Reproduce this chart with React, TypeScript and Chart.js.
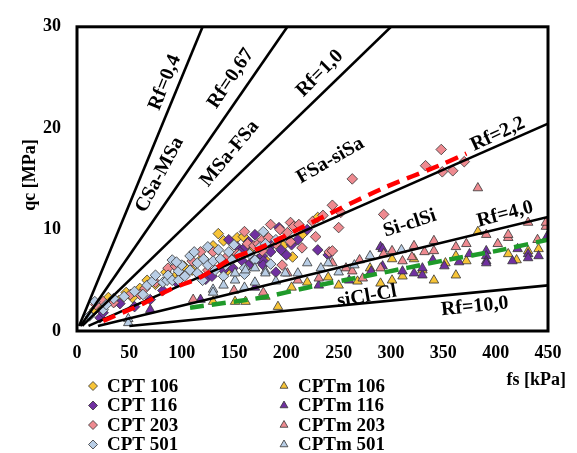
import React, { useEffect, useRef } from "react";
import { Chart, registerables } from "chart.js";
Chart.register(...registerables);

const SERIF = '"Liberation Serif", "Times New Roman", Times, serif';

const xTickValues = [0, 50, 100, 150, 200, 250, 300, 350, 400, 450];
const yTickValues = [0, 10, 20, 30];

const seriesNames = ["CPT 106", "CPT 116", "CPT 203", "CPT 501", "CPTm 106", "CPTm 116", "CPTm 203", "CPTm 501"];
const seriesColors = ["#F7C437", "#7030A0", "#EE8A90", "#B9CEE6", "#F7C437", "#7030A0", "#EE8A90", "#B9CEE6"];
const seriesShapes = ["rectRot", "rectRot", "rectRot", "rectRot", "triangle", "triangle", "triangle", "triangle"];

// [fs kPa, qc MPa]
const cpt106 = [[17,2.1],[22,2.6],[30,3.3],[40,3.0],[47,3.8],[53,3.3],[60,4.2],[67,5.0],[75,4.6],[85,5.8],[95,5.5],[102,6.4],[110,6.0],[120,7.2],[130,8.4],[140,8.9],[144,6.0],[153,9.2],[159,9.3],[165,8.0],[180,7.0],[197,8.4],[206,7.3],[230,11.2],[215,9.5],[135,9.6]];
const cpt116 = [[22,1.3],[25,1.8],[36,2.9],[41,2.7],[55,2.4],[70,3.1],[82,4.0],[95,4.8],[118,5.4],[123,5.1],[129,5.4],[140,6.0],[149,6.2],[153,8.3],[156,7.8],[158,6.9],[161,8.3],[164,6.5],[164,8.8],[169,7.0],[173,7.1],[177,7.4],[178,6.9],[178,6.5],[187,8.6],[193,10.2],[200,7.5],[211,9.0],[220,10.0],[170,9.5],[145,9.0],[185,7.8],[195,8.0],[205,8.5],[230,8.0],[240,7.5],[190,5.8]];
const cpt203 = [[18,2.6],[25,2.9],[35,2.8],[51,3.6],[60,3.6],[65,4.2],[75,4.8],[87,6.2],[94,6.4],[100,5.5],[110,6.9],[118,7.8],[125,6.0],[130,7.8],[140,6.7],[144,7.4],[153,7.6],[163,8.6],[169,8.4],[173,8.6],[177,9.0],[177,7.9],[183,9.2],[190,8.6],[194,10.0],[201,9.7],[204,10.7],[204,8.8],[207,10.3],[212,10.5],[228,9.3],[235,11.4],[241,7.8],[244,7.9],[244,12.4],[250,10.2],[252,11.7],[263,15.0],[293,11.5],[333,16.3],[348,17.9],[349,15.7],[359,15.8],[370,16.7],[160,9.8],[185,10.5],[215,8.2],[225,10.8],[196,6.5]];
const cpt501 = [[12,1.5],[17,2.9],[25,2.1],[28,2.6],[35,3.2],[45,3.4],[55,3.9],[63,3.6],[67,4.5],[72,4.9],[82,4.8],[86,5.0],[87,5.5],[91,5.0],[91,7.0],[97,5.9],[97,5.0],[103,5.4],[108,6.0],[108,7.4],[115,6.7],[115,5.7],[121,7.1],[125,6.5],[130,6.9],[132,6.0],[137,7.1],[142,6.5],[145,7.8],[148,7.0],[155,7.5],[160,6.2],[170,7.0],[175,8.3],[180,8.6],[178,9.8],[190,9.0],[100,6.5],[120,5.0],[140,5.4],[75,5.5],[135,8.0],[150,8.5],[160,5.6],[112,7.8],[125,8.3],[95,6.8],[165,7.6],[185,6.6]];
const cptm106 = [[130,2.9],[151,2.9],[161,2.9],[192,2.4],[220,4.8],[205,4.3],[180,3.4],[250,4.5],[268,4.9],[290,4.7],[301,7.1],[301,5.0],[311,5.4],[322,7.1],[341,5.0],[352,6.7],[362,5.5],[362,7.4],[372,6.9],[383,9.8],[412,7.6],[431,7.9],[441,8.1],[280,6.2],[240,5.3],[330,6.0],[420,7.0]];
const cptm116 = [[70,2.1],[118,3.1],[170,4.3],[231,4.5],[281,5.9],[290,8.3],[292,8.1],[292,6.4],[311,5.9],[322,5.7],[330,5.5],[330,6.2],[351,6.4],[391,7.9],[391,7.4],[391,6.9],[391,6.7],[416,6.9],[421,8.1],[431,7.6],[431,7.2],[441,7.4],[449,9.3],[260,5.0],[340,7.0],[365,6.8],[375,7.6]];
const cptm203 = [[111,3.1],[150,4.0],[178,3.8],[201,5.7],[211,5.0],[231,5.2],[244,6.7],[257,6.2],[263,5.9],[273,5.2],[290,6.2],[293,7.6],[301,7.9],[311,6.9],[322,8.4],[332,7.8],[341,8.9],[341,7.9],[362,8.3],[372,8.6],[383,14.1],[391,9.5],[402,8.6],[412,9.2],[412,9.5],[431,10.7],[440,9.0],[448,10.3],[448,10.7],[270,7.0],[320,7.3]];
const cptm501 = [[49,1.2],[49,0.8],[130,4.1],[130,3.8],[151,5.0],[151,5.7],[161,6.0],[170,4.8],[180,5.9],[170,6.2],[180,5.7],[199,5.7],[211,5.7],[220,6.7],[233,6.2],[240,6.7],[140,4.5],[190,4.9],[160,4.3],[250,5.8],[265,6.5],[280,7.4],[310,8.0]];

const seriesData = [cpt106, cpt116, cpt203, cpt501, cptm106, cptm116, cptm203, cptm501];

// Rf boundary lines: [fs, qc] end points
const rf04 = [[2, 0.5], [120, 30]];
const rf067 = [[3.35, 0.5], [201, 30]];
const rf10 = [[5, 0.5], [300, 30]];
const rf22 = [[11, 0.5], [450, 20.45]];
const rf40 = [[20, 0.5], [450, 11.25]];
const rf100 = [[50, 0.5], [450, 4.5]];
const rfLines = [rf04, rf067, rf10, rf22, rf40, rf100];

const redTrend = [[25,1.0],[63,2.7],[89,4.1],[118,5.3],[149,7.2],[175,8.2],[242,11.6],[293,14.1],[348,16.4],[372,17.5]];
const greenTrend = [[108,2.3],[177,3.3],[225,4.4],[280,5.5],[353,7.0],[401,7.9],[450,9.0]];

const chartLabels = [
  { text: "Rf=0,4", fs: 84, qc: 24.5, angle: -68 },
  { text: "CSa-MSa", fs: 79, qc: 15.4, angle: -62 },
  { text: "Rf=0,67", fs: 147, qc: 24.9, angle: -56 },
  { text: "MSa-FSa", fs: 146, qc: 17.5, angle: -50 },
  { text: "Rf=1,0", fs: 232, qc: 25.4, angle: -45 },
  { text: "FSa-siSa", fs: 242, qc: 16.8, angle: -30 },
  { text: "Rf=2,2", fs: 402, qc: 19.4, angle: -25 },
  { text: "Si-clSi", fs: 318, qc: 10.6, angle: -18 },
  { text: "Rf=4,0", fs: 409, qc: 11.5, angle: -15 },
  { text: "siCl-Cl", fs: 277, qc: 3.4, angle: -10 },
  { text: "Rf=10,0", fs: 380, qc: 2.4, angle: -6 },
];

const toXY = (arr: number[][]) => arr.map(([x, y]) => ({ x, y }));

function drawMarker(ctx: CanvasRenderingContext2D, shape: string, x: number, y: number, r: number, fill: string) {
  ctx.beginPath();
  if (shape === "rectRot") {
    ctx.moveTo(x - r, y);
    ctx.lineTo(x, y - r);
    ctx.lineTo(x + r, y);
    ctx.lineTo(x, y + r);
  } else {
    const h = r * 1.5;
    ctx.moveTo(x, y - h * 2 / 3);
    ctx.lineTo(x + r * 0.87, y + h / 3);
    ctx.lineTo(x - r * 0.87, y + h / 3);
  }
  ctx.closePath();
  ctx.fillStyle = fill;
  ctx.fill();
  ctx.lineWidth = 0.8;
  ctx.strokeStyle = "#333";
  ctx.stroke();
}

const overlayPlugin = {
  id: "overlay",
  afterDatasetsDraw(chart: any) {
    const { ctx, chartArea, scales } = chart;
    ctx.save();
    ctx.lineWidth = 3;
    ctx.strokeStyle = "#000";
    ctx.strokeRect(chartArea.left, chartArea.top, chartArea.right - chartArea.left, chartArea.bottom - chartArea.top);
    ctx.fillStyle = "#000";
    ctx.font = `bold 20px ${SERIF}`;
    ctx.textAlign = "center";
    ctx.textBaseline = "middle";
    for (const l of chartLabels) {
      const px = scales.x.getPixelForValue(l.fs);
      const py = scales.y.getPixelForValue(l.qc);
      ctx.save();
      ctx.translate(px, py);
      ctx.rotate((l.angle * Math.PI) / 180);
      ctx.fillText(l.text, 0, 0);
      ctx.restore();
    }
    ctx.restore();
  },
  afterDraw(chart: any) {
    const { ctx } = chart;
    ctx.save();
    ctx.fillStyle = "#000";
    ctx.font = `bold 18px ${SERIF}`;
    ctx.textBaseline = "middle";
    ctx.textAlign = "right";
    ctx.fillText("fs [kPa]", 566, 380);
    ctx.save();
    ctx.translate(30, 175);
    ctx.rotate(-Math.PI / 2);
    ctx.textAlign = "center";
    ctx.fillText("qc [MPa]", 0, 0);
    ctx.restore();
    ctx.textAlign = "left";
    ctx.font = `bold 19px ${SERIF}`;
    seriesNames.forEach((name, i) => {
      const col = i < 4 ? 0 : 1;
      const row = i % 4;
      const mx = col === 0 ? 93 : 284;
      const y = 386 + row * 19.5;
      drawMarker(ctx, seriesShapes[i], mx, y, 4.5, seriesColors[i]);
      ctx.fillStyle = "#000";
      ctx.fillText(name, mx + 14, y + 1);
    });
    ctx.restore();
  },
};

export default function App() {
  const ref = useRef<HTMLCanvasElement>(null);
  useEffect(() => {
    if (!ref.current) return;
    const datasets: any[] = [];
    datasets.push({ type: "line", data: toXY(redTrend), borderColor: "#FF0000", borderWidth: 4.5, borderDash: [13, 8], pointRadius: 0, tension: 0.3, fill: false, order: 0 });
    datasets.push({ type: "line", data: toXY(greenTrend), borderColor: "#1F9A2A", borderWidth: 4.5, borderDash: [14, 8], pointRadius: 0, tension: 0.2, fill: false, order: 0 });
    rfLines.forEach((pts) => {
      datasets.push({ type: "line", data: toXY(pts), borderColor: "#000", borderWidth: 2.6, pointRadius: 0, fill: false, order: 1 });
    });
    seriesData.forEach((d, i) => {
      datasets.push({
        type: "scatter",
        label: seriesNames[i],
        data: toXY(d),
        pointStyle: seriesShapes[i],
        pointRadius: seriesShapes[i] === "triangle" ? 5.5 : 5.3,
        backgroundColor: seriesColors[i],
        borderColor: "#333",
        borderWidth: 0.8,
        order: 12 - i,
      });
    });
    const font = { family: SERIF, size: 18, weight: "bold" as const };
    const chart = new Chart(ref.current, {
      type: "scatter",
      data: { datasets },
      plugins: [overlayPlugin],
      options: {
        animation: false,
        responsive: false,
        layout: { padding: { top: 16, right: 29, left: 0, bottom: 0 } },
        plugins: { legend: { display: false }, tooltip: { enabled: false } },
        scales: {
          x: {
            type: "linear",
            min: 0,
            max: 450,
            afterBuildTicks: (s: any) => { s.ticks = xTickValues.map((v) => ({ value: v })); },
            afterFit: (s: any) => { s.height = 122; },
            grid: { display: false, drawTicks: false },
            border: { display: false },
            ticks: { font, color: "#000", padding: 12, maxRotation: 0, autoSkip: false },
          },
          y: {
            type: "linear",
            min: 0,
            max: 30,
            afterBuildTicks: (s: any) => { s.ticks = yTickValues.map((v) => ({ value: v })); },
            afterFit: (s: any) => { s.width = 77; },
            grid: { display: false, drawTicks: false },
            border: { display: false },
            ticks: { font, color: "#000", padding: 16, autoSkip: false },
          },
        },
      },
    } as any);
    return () => chart.destroy();
  }, []);
  return (
    <div style={{ position: "absolute", left: 0, top: 0, width: 577, height: 453, background: "#fff" }}>
      <canvas ref={ref} width={577} height={453} style={{ display: "block" }} />
    </div>
  );
}
